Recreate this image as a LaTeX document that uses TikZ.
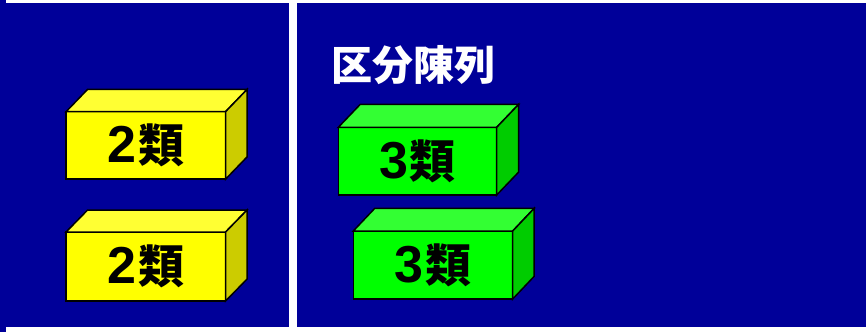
\documentclass[tikz,border=0pt]{standalone}
\usepackage{fontspec}
\newfontfamily\cjk{Noto Sans CJK JP}
\newfontfamily\lat{Liberation Sans}
\definecolor{panelblue}{RGB}{0,0,153}
\definecolor{yfront}{RGB}{255,255,0}
\definecolor{ytop}{RGB}{255,255,51}
\definecolor{yside}{RGB}{204,204,0}
\definecolor{gfront}{RGB}{0,255,0}
\definecolor{gtop}{RGB}{51,255,51}
\definecolor{gside}{RGB}{0,204,0}
\tikzset{
  edge/.style={draw=black,line width=1.5pt,line join=miter},
  frontface/.style={edge,minimum width=159.5pt,minimum height=67.5pt,inner sep=0pt,outer sep=0pt,text=black},
}
\newcommand{\boxlabel}[1]{\raisebox{-1.5pt}{{\lat\bfseries\fontsize{52}{52}\selectfont #1}\kern1.5pt{\cjk\bfseries\fontsize{46}{46}\selectfont 類}}}
\begin{document}
\begin{tikzpicture}[x=1pt,y=-1pt]
\useasboundingbox (0,0) rectangle (866,332);
\fill[white] (0,0) rectangle (866,332);
\fill[panelblue] (0,2.5) rectangle (288.6,326.7);
\fill[panelblue] (0,0) rectangle (5.5,332);
\fill[panelblue] (296.8,2.5) rectangle (866,326.7);
% title
\node[text=white,font=\cjk\bfseries\fontsize{41}{41}\selectfont,inner sep=0pt] (title) at (413.4,65) {区分陳列};
% yellow box 1
\node[frontface,fill=yfront] (y1) at (145.85,145.4) {\boxlabel{2}};
\draw[edge,fill=ytop] (y1.north west) -- ++(21.5,-22.3) -- ([shift={(21.5,-22.3)}]y1.north east) -- (y1.north east) -- cycle;
\draw[edge,fill=yside] (y1.north east) -- ++(21.5,-22.3) -- ([shift={(21.5,-22.3)}]y1.south east) -- (y1.south east) -- cycle;
% yellow box 2
\node[frontface,fill=yfront,minimum height=69pt] (y2) at (145.85,266.5) {\boxlabel{2}};
\draw[edge,fill=ytop] (y2.north west) -- ++(21.5,-22) -- ([shift={(21.5,-22)}]y2.north east) -- (y2.north east) -- cycle;
\draw[edge,fill=yside] (y2.north east) -- ++(21.5,-22) -- ([shift={(21.5,-22)}]y2.south east) -- (y2.south east) -- cycle;
% green box 1
\node[frontface,fill=gfront,minimum width=158.4pt,minimum height=67.7pt] (g1) at (417.5,161.15) {\boxlabel{3}};
\draw[edge,fill=gtop] (g1.north west) -- ++(22,-23) -- ([shift={(22,-23)}]g1.north east) -- (g1.north east) -- cycle;
\draw[edge,fill=gside] (g1.north east) -- ++(22,-23) -- ([shift={(22,-23)}]g1.south east) -- (g1.south east) -- cycle;
% green box 2
\node[frontface,fill=gfront,minimum width=159.4pt,minimum height=68pt] (g2) at (433,265) {\boxlabel{3}};
\draw[edge,fill=gtop] (g2.north west) -- ++(21.5,-22.7) -- ([shift={(21.5,-22.7)}]g2.north east) -- (g2.north east) -- cycle;
\draw[edge,fill=gside] (g2.north east) -- ++(21.5,-22.7) -- ([shift={(21.5,-22.7)}]g2.south east) -- (g2.south east) -- cycle;
\end{tikzpicture}
\end{document}
